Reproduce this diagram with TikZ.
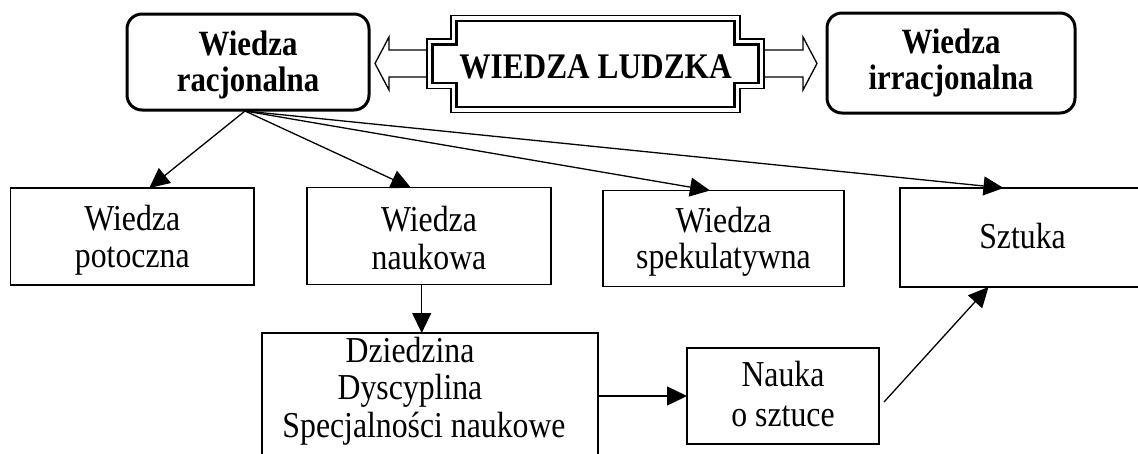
\documentclass[tikz,border=0pt]{standalone}
\usepackage{fontspec}
\setmainfont{Liberation Serif}[FakeStretch=0.87]
\usetikzlibrary{arrows.meta,calc}
% strut: #1 = height above baseline, #2 = depth below baseline
\newcommand{\mys}[2]{\rule[-#2pt]{0pt}{\dimexpr #1pt+#2pt\relax}}
\begin{document}
\begin{tikzpicture}[x=1pt,y=-1pt,
  every node/.style={inner sep=0pt, outer sep=0pt},
  txt/.style={font=\fontsize{36.5}{36}\selectfont, align=center},
  plainbox/.style={draw, line width=1.3pt, txt},
  rndbox/.style={draw, line width=3pt, rounded corners=15pt, align=center,
    font=\bfseries\fontsize{35.5}{36}\selectfont},
  arr/.style={line width=1.3pt, -{Triangle[length=20pt,width=19pt]}},
  hollow/.style={line width=1.3pt, line join=miter}
]
\useasboundingbox (0,0) rectangle (1138,453);
\clip (0,0) rectangle (1138,453);
\fill[white] (0,0) rectangle (1138,453);

% top row
\node[rndbox, minimum width=242pt, minimum height=96pt] (rac) at (248,62)
  {\mys{30}{5}Wiedza\\\mys{30}{5}racjonalna};
\node[rndbox, minimum width=248pt, minimum height=100pt] (irr) at (951,63)
  {\mys{26}{9}Wiedza\\\mys{26}{9}irracjonalna};

% plaque
\draw[line width=1.2pt] (451,15.5) -- (740,15.5) -- (740,39) -- (764,39) -- (764,88.5)
  -- (740,88.5) -- (740,112.5) -- (451,112.5) -- (451,88.5) -- (427,88.5)
  -- (427,39) -- (451,39) -- cycle;
\draw[line width=2.2pt] (456.5,21) -- (734.5,21) -- (734.5,44.5) -- (758.5,44.5)
  -- (758.5,83) -- (734.5,83) -- (734.5,107) -- (456.5,107) -- (456.5,83)
  -- (432.5,83) -- (432.5,44.5) -- (456.5,44.5) -- cycle;
\node[anchor=base, font=\bfseries\fontsize{36}{36}\selectfont] (lud) at (595.5,78) {WIEDZA LUDZKA};

% hollow arrows
\draw[hollow] (427,50) -- (389,50) -- (389,37) -- (375,63.5) -- (389,90) -- (389,77) -- (427,77);
\draw[hollow] (764,50) -- (803,50) -- (803,37) -- (817,63.5) -- (803,90) -- (803,77) -- (764,77);

% middle row
\node[plainbox, minimum width=243.3pt, minimum height=97pt] (pot) at (132.3,236.5)
  {\mys{32.5}{4}Wiedza\\\mys{32.5}{4}potoczna};
\node[plainbox, minimum width=244pt, minimum height=97pt] (nauk) at (429,236.3)
  {\mys{32.5}{4}Wiedza\\\mys{32.5}{4}naukowa};
\node[plainbox, minimum width=241pt, minimum height=96pt] (spe) at (723.5,238.5)
  {\mys{31}{4}Wiedza\\\mys{31}{4}spekulatywna};
\node[plainbox, minimum width=245pt, minimum height=99pt] (szt) at (1022.5,237.5)
  {\mys{28.5}{7.5}Sztuka};

% bottom row
\node[draw, line width=1.3pt, minimum width=336pt, minimum height=127pt] (dz) at (430,396.5) {};
\node[anchor=north, align=center, font=\fontsize{36.5}{37.5}\selectfont] (dzt) at (424,333.5)
  {\mys{28.5}{9}Dziedzina\hbox to 28pt{}\\\mys{28.5}{9}Dyscyplina\hbox to 28pt{}\\\mys{28.5}{9}Specjalności naukowe};
\node[plainbox, minimum width=192pt, minimum height=96pt] (nos) at (783,396)
  {\mys{30}{9}Nauka\\\mys{30}{9}o sztuce};

% connectors
\coordinate (r0) at ($(rac.south)+(-3,1)$);
\draw[arr] (r0) -- ($(pot.north)+(17,0)$);
\draw[arr] (r0) -- ($(nauk.north)+(-18,0)$);
\draw[arr] (r0) -- ($(spe.north)+(-13.5,0)$);
\draw[arr] (r0) -- ($(szt.north)+(-19,0)$);
\coordinate (v1) at ($(nauk.south)+(-7.3,0)$);
\draw[arr] (v1) -- (v1 |- dz.north);
\draw[arr] (dz.east |- nos.west) -- (nos.west);
\draw[arr] ($(nos.east)+(5,6)$) -- ($(szt.south)+(-34,0)$);
\end{tikzpicture}
\end{document}
